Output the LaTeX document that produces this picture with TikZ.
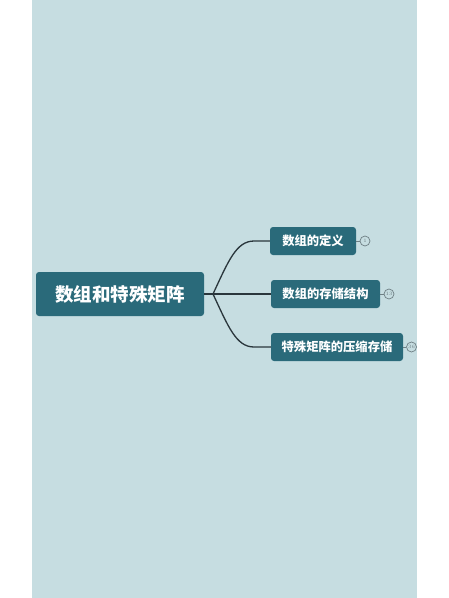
\documentclass[tikz,border=0pt]{standalone}
\usepackage{fontspec}
\newfontfamily\cjk{Noto Sans CJK SC}
\definecolor{panel}{HTML}{C6DDE1}
\definecolor{boxc}{HTML}{2A6A7A}
\definecolor{linec}{HTML}{2A363C}
\definecolor{circc}{HTML}{6E7F84}
\tikzset{
  mainbox/.style={fill=boxc, rounded corners=3pt, text=white, font=\cjk\bfseries\fontsize{18.5}{18.5}\selectfont, minimum width=168pt, minimum height=44pt, inner sep=0pt},
  subbox/.style={fill=boxc, rounded corners=3pt, text=white, font=\cjk\bfseries\fontsize{12.3}{12.3}\selectfont, minimum height=28pt, inner sep=0pt},
  conn/.style={draw=linec, line width=1.3pt},
  cnt/.style={circle, draw=circc, line width=0.7pt, fill=panel, minimum size=10pt, inner sep=0pt, text=circc, font=\fontsize{5}{5}\selectfont},
  tick/.style={draw=circc, line width=0.9pt}
}
\begin{document}
\begin{tikzpicture}[x=1pt,y=-1pt]
\useasboundingbox (0,0) rectangle (448,598);
\fill[white] (0,0) rectangle (448,598);
\fill[panel] (32,0) rectangle (417,598);
\node[mainbox] (root) at (120,294) {数组和特殊矩阵};
\node[subbox, minimum width=86pt] (c1) at (313,241) {数组的定义};
\node[subbox, minimum width=109pt] (c2) at (325.5,294) {数组的存储结构};
\node[subbox, minimum width=132pt] (c3) at (337,347) {特殊矩阵的压缩存储};
\coordinate (j) at (213,294);
\draw[conn] (root.east) -- (c2.west);
\draw[conn] (j) .. controls (228,262) and (236,241) .. (254,241) -- (c1.west);
\draw[conn] (j) .. controls (228,326) and (236,347) .. (254,347) -- (c3.west);
\node[cnt] (n1) at (365,241) {1};
\node[cnt] (n2) at (389,294) {13};
\node[cnt] (n3) at (411.5,347) {36};
\draw[tick] (c1.east) -- (n1.west);
\draw[tick] (c2.east) -- (n2.west);
\draw[tick] (c3.east) -- (n3.west);
\end{tikzpicture}
\end{document}
